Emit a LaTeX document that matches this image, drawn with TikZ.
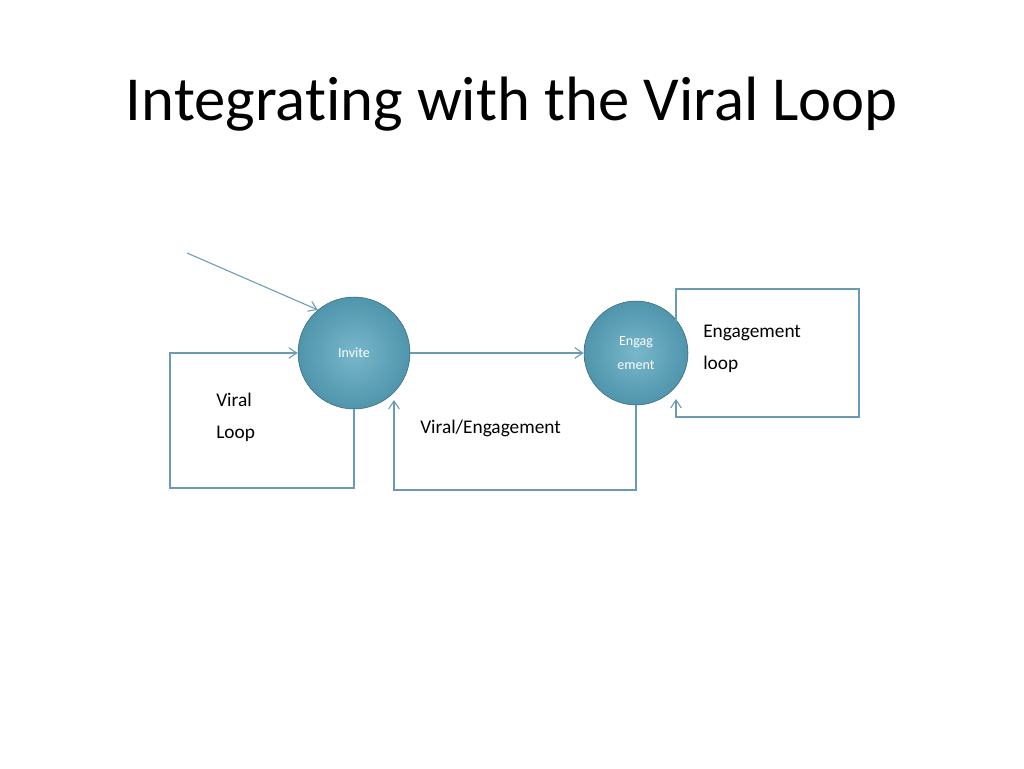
\documentclass[tikz,border=0pt]{standalone}
\usepackage{fontspec}
\setmainfont{Carlito}[Ligatures=NoCommon]
\usetikzlibrary{arrows.meta}
\definecolor{ln}{HTML}{6A9BB5}
\definecolor{ballc}{HTML}{4F95AC}
\definecolor{ballin}{HTML}{79B7CB}
\begin{document}
\begin{tikzpicture}[x=0.75pt,y=-0.75pt,
  ball/.style={circle,inner sep=0pt,minimum size=#1*0.75pt*2,draw=ballc!70!black,line width=0.4pt,
    inner color=ballin,outer color=ballc,text=white,font=\fontsize{10.5}{18}\selectfont,align=center},
  con/.style={draw=ln,line width=0.8pt,-{Straight Barb[length=6pt,width=8pt]}},
  lbl/.style={anchor=north west,font=\fontsize{14.5}{24}\selectfont,align=left,inner sep=0pt}]
\useasboundingbox (0,0) rectangle (1024,768);
\node[anchor=base,font=\fontsize{47}{50}\selectfont] (title) at (512,120) {Integrating with the Viral Loop};
\node[ball=56] (inv) at (354,353) {Invite};
\node[ball=52] (eng) at (636,353) {Engag\\ement};
\coordinate (s) at (187,253);
\draw[con] (s) -- (inv.130);
\draw[con] (inv.east) -- (eng.west);
\draw[con] (inv.south) -- (354,488) -- (170,488) -- (170,353) -- (inv.west);
\draw[con] (eng.south) -- (636,490) -- (394,490) -- (394,400);
\draw[con] (676,322) -- (676,289) -- (859,289) -- (859,417) -- (676,417) -- (676,399);
\node[lbl] (vl) at (216,393) {Viral\\Loop};
\node[lbl] (ve) at (420,420) {Viral/Engagement};
\node[lbl] (el) at (703,325) {Engagement\\loop};
\end{tikzpicture}
\end{document}
